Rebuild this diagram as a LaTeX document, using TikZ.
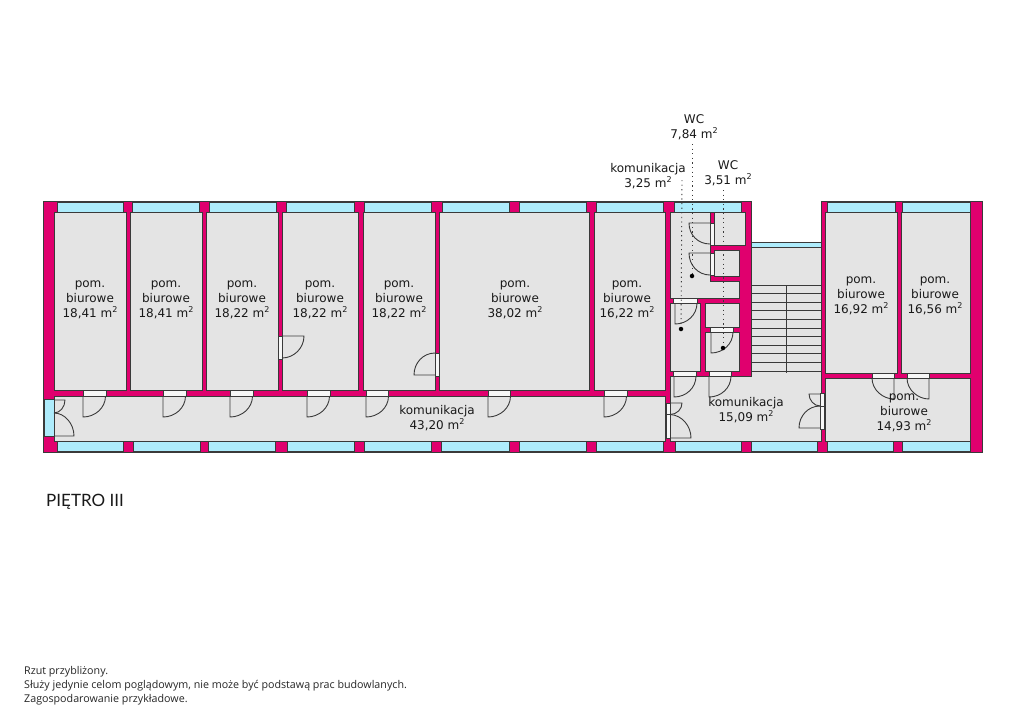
\documentclass[tikz,border=0pt]{standalone}
\usepackage{fontspec}
\setmainfont{DejaVu Sans}
\newfontfamily\notefont{Open Sans}
\newfontfamily\floorfont{Lato}
\definecolor{wall}{HTML}{E0006E}
\definecolor{room}{HTML}{E4E4E4}
\definecolor{glass}{HTML}{AEECFC}
\definecolor{edge}{HTML}{3A3A3A}
\newcommand{\sqm}[1]{#1~m\raisebox{.42em}{\fontsize{8}{8}\selectfont 2}}
\tikzset{
  roomarea/.style={fill=room,draw=edge,line width=.7pt},
  pane/.style={fill=glass,draw=edge,line width=.4pt},
  pier/.style={fill=wall,draw=edge,line width=.5pt},
  gap/.style={fill=room!30!white,draw=edge,line width=.5pt},
  swing/.style={draw=edge,line width=.9pt,line join=round},
  tread/.style={draw=edge,line width=.7pt},
  lead/.style={draw=edge,line width=.9pt,dash pattern=on 1.2pt off 3.4pt},
  pin/.style={circle,fill=black,inner sep=0pt,minimum size=4.5pt},
  label/.style={align=center,font=\fontsize{12}{15}\selectfont,text=black!90,inner sep=0pt},
}
\begin{document}
\begin{tikzpicture}[x=1pt,y=-1pt]
\useasboundingbox (0,0) rectangle (1024,724);
\fill[white] (0,0) rectangle (1024,724);
% footprint
\draw[fill=wall,draw=edge,line width=.7pt] (43,201) -- (751,201) -- (751,242) -- (821,242) -- (821,201) -- (982,201) -- (982,452) -- (43,452) -- cycle;
% rooms
\foreach \a/\b/\c/\d in {54/126/212/390,130/202/212/390,206/278/212/390,282/358/212/390,363/435/212/390,439/589/212/390,594/665/212/390,54/665/396/441,825/897/212/373,901/970/212/373,825/970/378/441,714/745/212/245,714/739/250/276,670/700/303/371,705/739/303/327,705/739/332/371}
  \draw[roomarea] (\a,\c) rectangle (\b,\d);
\draw[roomarea] (670,212) -- (710,212) -- (710,281) -- (739,281) -- (739,298) -- (670,298) -- cycle;
\draw[roomarea] (670,376) -- (751,376) -- (751,247) -- (821,247) -- (821,441) -- (670,441) -- cycle;
% staircase
\foreach \y in {285,293.6,302.2,310.8,319.4,328,336.6,345.2,353.8,362.4,371}
  \draw[tread] (751,\y) -- (821,\y);
\draw[tread] (786,285) -- (786,373);
% top and bottom windows
\foreach \a/\b in {57/123,132/199,209/276,286/354,364/431,442/509,519/586,596/663,674/741,827/895,902/970}
  \draw[pane] (\a,202) rectangle (\b,212);
\foreach \a/\b in {57/123,133/200,208/275,287/354,364/431,441/509,519/586,596/663,675/741,751/817,827/893,902/970}
  \draw[pane] (\a,441) rectangle (\b,451);
\draw[pane] (751,242) rectangle (821,247);
\draw[pane] (44,399) rectangle (54,436);
% door openings
\foreach \a/\b in {83/106,163/186,230/253,307/330,366/388,488/510,604/627}
  \draw[gap] (\a,390) rectangle (\b,396);
\foreach \a/\b in {872/894,907/929}
  \draw[gap] (\a,373) rectangle (\b,378);
\draw[gap] (278,336) rectangle (282,359);
\draw[gap] (435,353) rectangle (439,376);
\draw[gap] (710,223) rectangle (714,245);
\draw[gap] (710,253) rectangle (714,275);
\draw[gap] (673,298) rectangle (697,303);
\draw[gap] (710,327) rectangle (733,332);
\draw[gap] (673,371) rectangle (696,376);
\draw[gap] (709,371) rectangle (731,376);
\draw[gap] (666,403) rectangle (670,414.5);
\draw[gap] (666,414.5) rectangle (670,438);
\draw[gap] (820,393) rectangle (824,406);
\draw[gap] (820,406) rectangle (824,429);
% door leaves
\foreach \a in {83,163,230,307,366,488,604}
  \draw[swing] (\a+22.5,396) .. controls (\a+22.5,408) and (\a+12,417) .. (\a,417) -- (\a,396);
\foreach \a/\t in {894/378,929/378}
  \draw[swing] (\a-22,\t) .. controls (\a-22,\t+12) and (\a-11,\t+21) .. (\a,\t+21) -- (\a,\t);
\draw[swing] (282,336) -- (304,336) .. controls (304,348) and (294,358) .. (282,358);
\draw[swing] (435,375) -- (414,375) .. controls (414,363) and (423,353) .. (435,353);
\draw[swing] (710,223) -- (689,223) .. controls (689,235) and (698,244) .. (710,244);
\draw[swing] (710,253) -- (689,253) .. controls (689,265) and (698,275) .. (710,275);
\draw[swing] (675,303) -- (675,324) .. controls (687,324) and (697,315) .. (697,303);
\draw[swing] (711,332) -- (711,353) .. controls (723,353) and (733,344) .. (733,332);
\draw[swing] (674,376) -- (674,397) .. controls (686,397) and (696,388) .. (696,376);
\draw[swing] (709,376) -- (709,397) .. controls (721,397) and (731,388) .. (731,376);
\draw[swing] (670,403) -- (682,403) .. controls (682,409) and (677,414.5) .. (670,414.5);
\draw[swing] (670,438) -- (691,438) .. controls (691,426) and (682,415) .. (670,414.5);
\draw[swing] (820,394) -- (809,394) .. controls (809,400) and (814,406) .. (820,406);
\draw[swing] (820,428) -- (799,428) .. controls (799,416) and (808,406) .. (820,406);
\draw[swing] (54,400) -- (65,400) .. controls (65,407) and (60,413) .. (54,413);
\draw[swing] (54,436) -- (74,436) .. controls (74,424) and (65,413) .. (54,413);
\draw[swing] (54,399) -- (54,436);
% leaders
\node[pin] (p1) at (692,276) {};
\node[pin] (p2) at (681,329) {};
\node[pin] (p3) at (723,348) {};
\coordinate (t1) at (692,144);
\coordinate (t2) at (682,180);
\coordinate (t3) at (723,190);
\draw[lead] (t1) -- (p1);
\draw[lead] (t2) -- (p2);
\draw[lead] (t3) -- (p3);
% labels
\node[label] (r1) at (90,300) {pom.\\biurowe\\\sqm{18,41}};
\node[label] (r2) at (166,300) {pom.\\biurowe\\\sqm{18,41}};
\node[label] (r3) at (242,300) {pom.\\biurowe\\\sqm{18,22}};
\node[label] (r4) at (320,300) {pom.\\biurowe\\\sqm{18,22}};
\node[label] (r5) at (399,300) {pom.\\biurowe\\\sqm{18,22}};
\node[label] (r6) at (515,300) {pom.\\biurowe\\\sqm{38,02}};
\node[label] (r7) at (627,300) {pom.\\biurowe\\\sqm{16,22}};
\node[label] (r8) at (861,296) {pom.\\biurowe\\\sqm{16,92}};
\node[label] (r9) at (935,296) {pom.\\biurowe\\\sqm{16,56}};
\node[label] (r10) at (904,413) {pom.\\biurowe\\\sqm{14,93}};
\node[label] (c1) at (437,418) {komunikacja\\\sqm{43,20}};
\node[label] (c2) at (746,410) {komunikacja\\\sqm{15,09}};
\node[label] (c3) at (648,176) {komunikacja\\\sqm{3,25}};
\node[label] (w1) at (694,127) {WC\\\sqm{7,84}};
\node[label] (w2) at (728,173) {WC\\\sqm{3,51}};
\node[anchor=west,inner sep=0pt,font=\floorfont\fontsize{17}{17}\selectfont,text=black!90] (floor) at (46,502) {PIĘTRO III};
\node[anchor=north west,inner sep=0pt,align=left,font=\notefont\fontsize{10.7}{14}\selectfont,text=black!85] (note) at (24,666.5) {Rzut przybliżony.\\Służy jedynie celom poglądowym, nie może być podstawą prac budowlanych.\\Zagospodarowanie przykładowe.};
\end{tikzpicture}
\end{document}
